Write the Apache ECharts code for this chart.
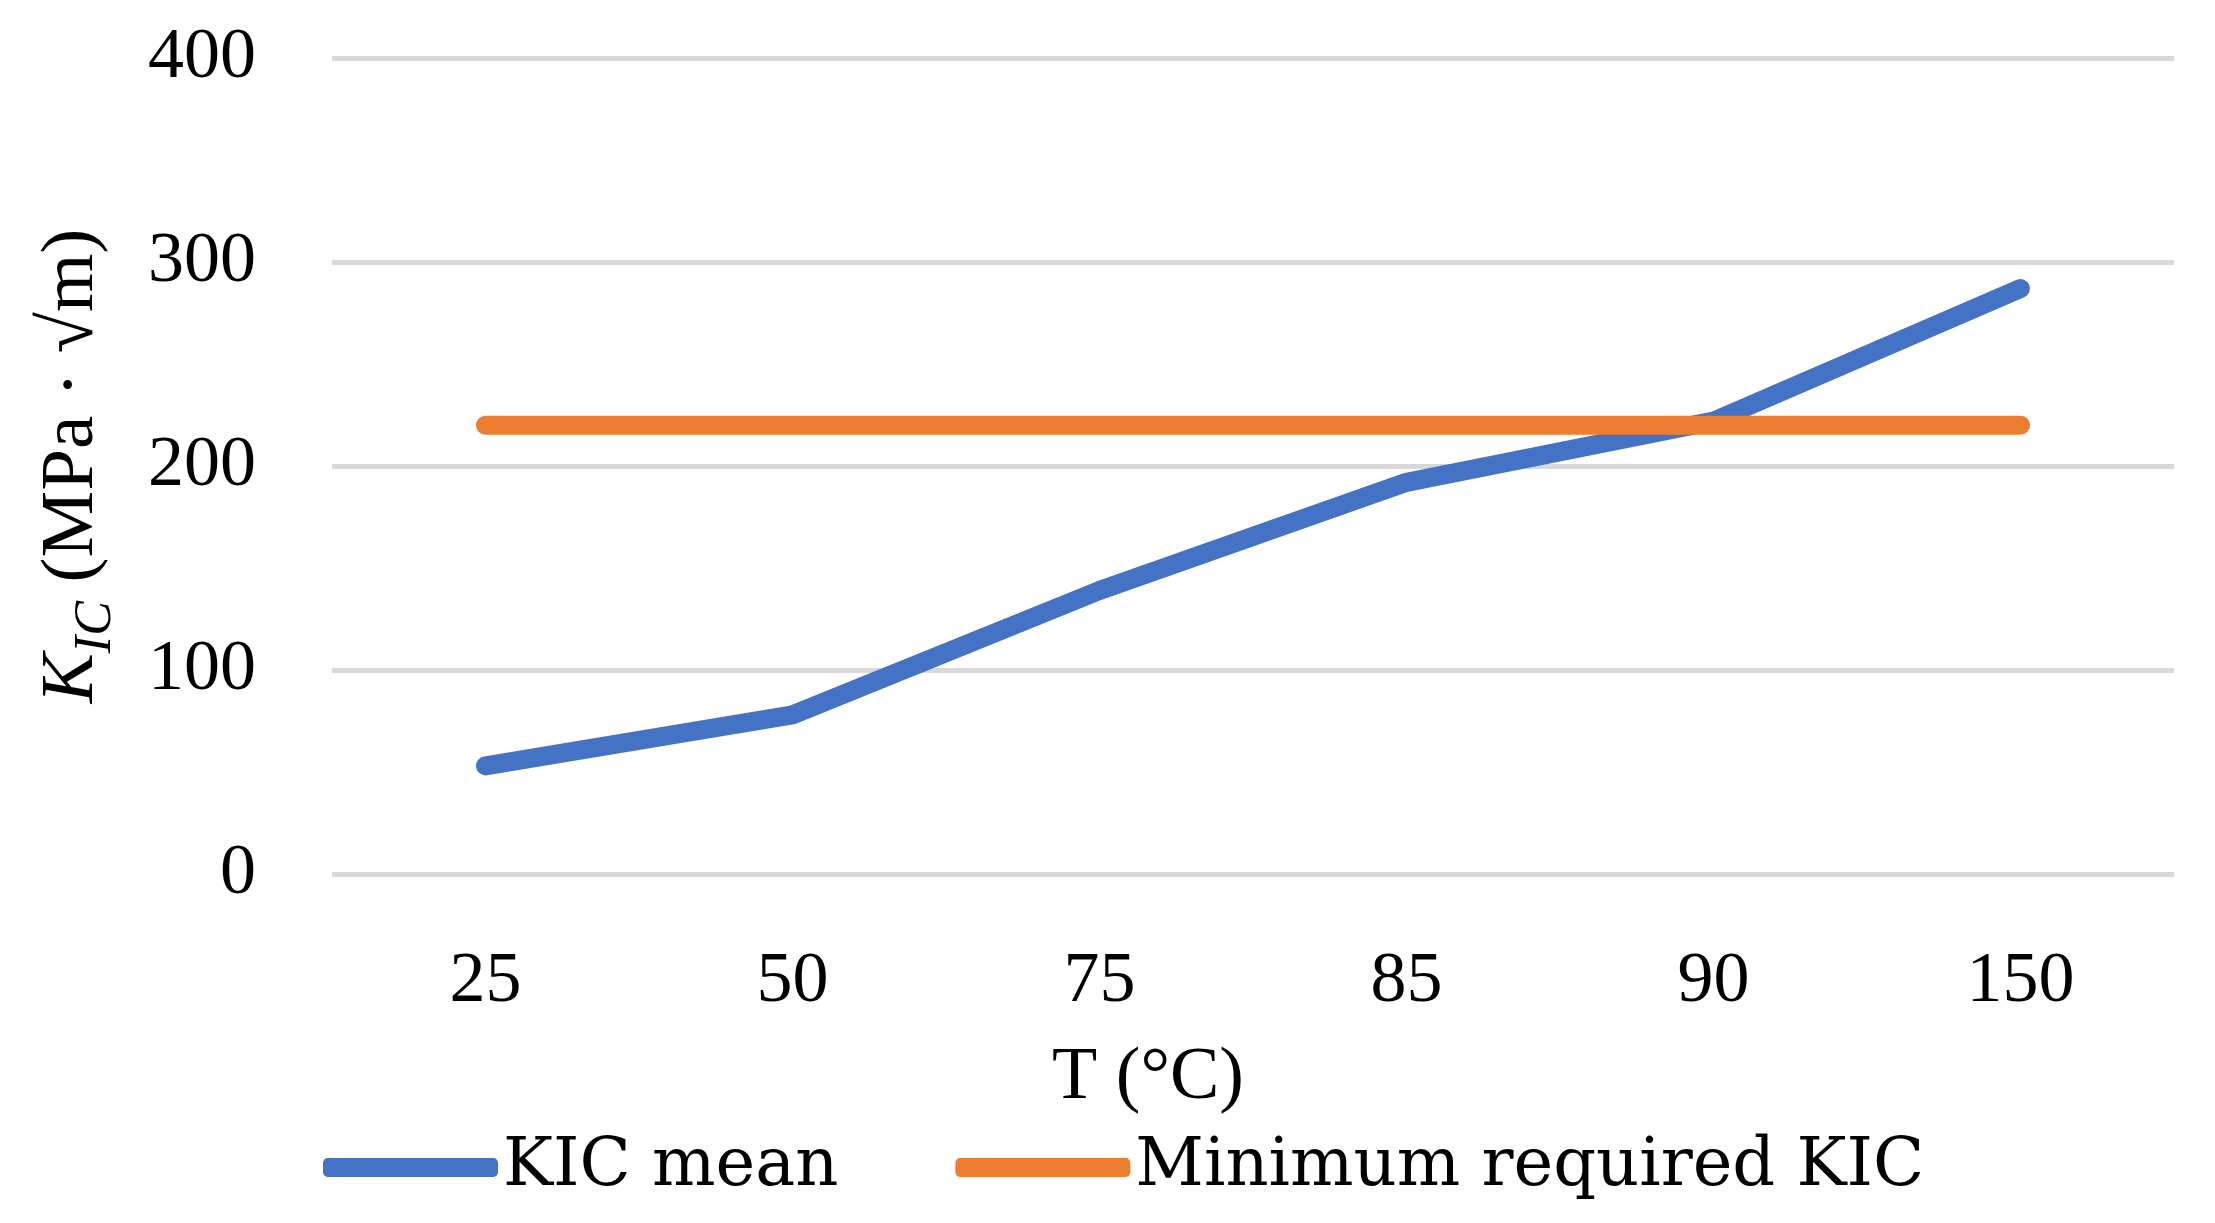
<!DOCTYPE html>
<html>
<head>
<meta charset="utf-8">
<script src="https://cdn.jsdelivr.net/npm/echarts@6/dist/echarts.min.js"></script>
<style>
html,body{margin:0;padding:0;background:#fff;}
#chart{width:2215px;height:1223px;}
</style>
</head>
<body>
<div id="chart"></div>
<script>
const categories = ['25', '50', '75', '85', '90', '150'];
const kicMean = [53, 78, 139, 192, 222, 287];
const minRequired = [220, 220, 220, 220, 220, 220];
const seriesNames = ['KIC mean', 'Minimum required KIC'];
const colors = ['#4472C4', '#ED7D31'];

const FONT = 'Liberation Serif';
const chart = echarts.init(document.getElementById('chart'));
chart.setOption({
  backgroundColor: '#ffffff',
  animation: false,
  color: colors,
  grid: { left: 332, right: 41, top: 58, bottom: 349 },
  legend: {
    left: 318,
    top: 1129,
    itemWidth: 175,
    itemHeight: 19,
    itemGap: 117,
    icon: 'roundRect',
    textStyle: { fontFamily: 'DejaVu Serif', fontSize: 67, color: '#000', padding: [0, 0, 0, 0] },
    data: seriesNames
  },
  xAxis: {
    type: 'category',
    data: categories,
    boundaryGap: true,
    axisLine: { show: false },
    axisTick: { show: false },
    axisLabel: { fontFamily: FONT, fontSize: 72, color: '#000', margin: 72 },
    name: 'T (°C)',
    nameLocation: 'middle',
    nameGap: 168,
    nameTextStyle: { fontFamily: FONT, fontSize: 74, color: '#000', padding: [0, 210, 0, 0] }
  },
  yAxis: {
    type: 'value',
    min: 0,
    max: 400,
    interval: 100,
    axisLine: { show: false },
    axisTick: { show: false },
    axisLabel: { fontFamily: FONT, fontSize: 72, color: '#000', margin: 76 },
    splitLine: { lineStyle: { color: '#D9D9D9', width: 5 } },
    name: '{k|K}{sub|IC}{n| (MPa · √m)}',
    nameLocation: 'middle',
    nameRotate: 90,
    nameGap: 222,
    nameTextStyle: {
      fontFamily: FONT, fontSize: 75, color: '#000',
      rich: {
        k: { fontFamily: FONT, fontSize: 75, fontStyle: 'italic', color: '#000', verticalAlign: 'bottom' },
        sub: { fontFamily: FONT, fontSize: 52, fontStyle: 'italic', color: '#000', verticalAlign: 'bottom', padding: [0, 0, -12, 0] },
        n: { fontFamily: FONT, fontSize: 75, color: '#000', verticalAlign: 'bottom' }
      }
    }
  },
  series: [
    {
      name: seriesNames[0], type: 'line', data: kicMean,
      symbol: 'none',
      lineStyle: { width: 19, color: colors[0], cap: 'round', join: 'round' },
      itemStyle: { color: colors[0] }
    },
    {
      name: seriesNames[1], type: 'line', data: minRequired,
      symbol: 'none',
      lineStyle: { width: 19, color: colors[1], cap: 'round', join: 'round' },
      itemStyle: { color: colors[1] }
    }
  ]
});
</script>
</body>
</html>
